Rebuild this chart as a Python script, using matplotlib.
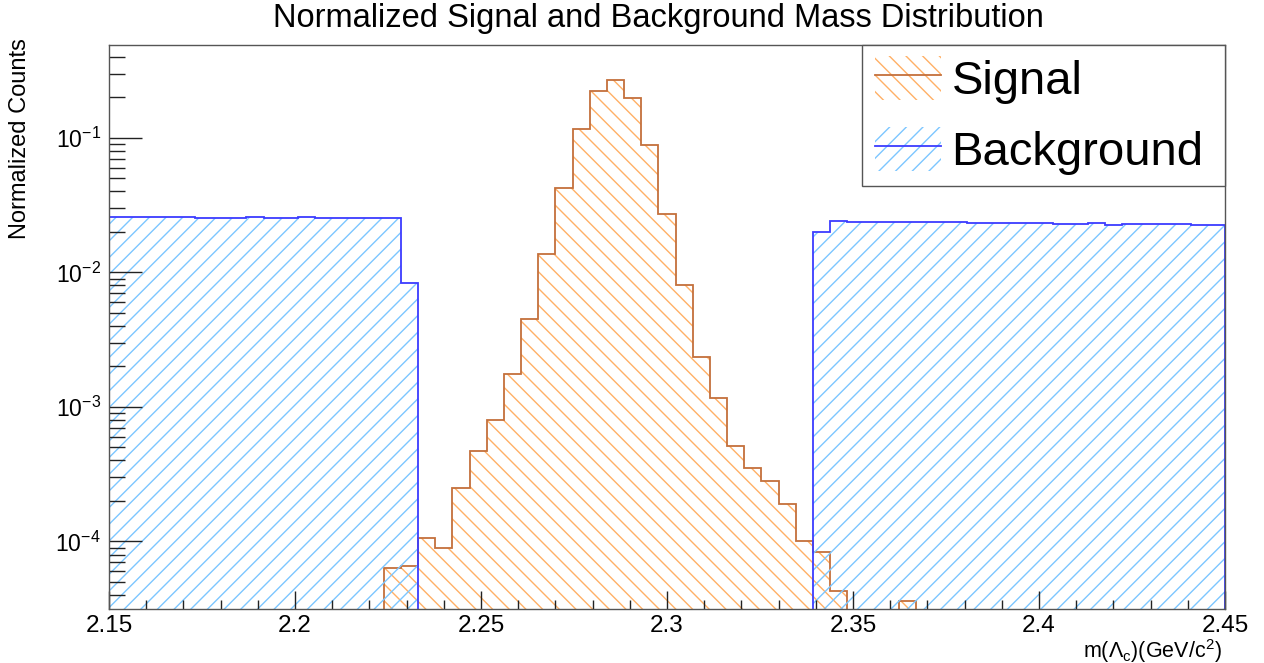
import numpy as np
import matplotlib
matplotlib.use("Agg")
import matplotlib.pyplot as plt
from matplotlib.patches import Patch, Rectangle
from matplotlib.lines import Line2D
from matplotlib.legend_handler import HandlerTuple
from matplotlib.ticker import MultipleLocator, LogLocator, FuncFormatter, NullFormatter

plt.rcParams["font.family"] = ["Liberation Sans", "DejaVu Sans"]
plt.rcParams["mathtext.fontset"] = "custom"
plt.rcParams["mathtext.rm"] = "Liberation Sans"
plt.rcParams["mathtext.it"] = "Liberation Sans:italic"
plt.rcParams["hatch.linewidth"] = 1.0

# binning of the Lambda_c mass window
m_lo, m_hi, n_bins = 2.15, 2.45, 65
edges = np.linspace(m_lo, m_hi, n_bins + 1)

# normalized bin contents (unit area per sample)
signal = [
    0, 0, 0, 0, 0, 0, 0, 0, 0, 0, 0, 0, 0, 0, 0, 0,
    6.3e-5, 6.6e-5, 1.07e-4, 9.0e-5, 2.5e-4, 4.7e-4, 8.0e-4, 1.75e-3, 4.5e-3,
    1.37e-2, 4.25e-2, 0.117, 0.223, 0.269, 0.198, 0.088, 0.027, 8.1e-3,
    2.37e-3, 1.16e-3, 5.1e-4, 3.5e-4, 2.8e-4, 1.9e-4, 1.0e-4, 8.3e-5, 4.3e-5,
    0, 0, 0, 3.6e-5,
    0, 0, 0, 0, 0, 0, 0, 0, 0, 0, 0, 0, 0, 0, 0, 0, 0, 0,
]
background = [
    0.0256, 0.0256, 0.0256, 0.0256, 0.0256, 0.0253, 0.0253, 0.0253, 0.0259,
    0.0253, 0.0253, 0.0259, 0.0253, 0.0253, 0.0253, 0.0253, 0.0253, 0.0084,
    0, 0, 0, 0, 0, 0, 0, 0, 0, 0, 0, 0, 0, 0, 0, 0, 0, 0, 0, 0, 0, 0, 0,
    0.0200, 0.0242, 0.0236, 0.0236, 0.0236, 0.0236, 0.0236, 0.0236, 0.0236,
    0.0234, 0.0234, 0.0234, 0.0234, 0.0234, 0.0230, 0.0230, 0.0234, 0.0227,
    0.0230, 0.0230, 0.0230, 0.0230, 0.0227, 0.0227,
]

sig_line, sig_hatch = "#c4703c", "#ffb066"
bkg_line, bkg_hatch = "#3c3cff", "#7cc6ff"
floor = 1e-9   # empty bins sit far below the visible log range

fig = plt.figure(figsize=(12.64, 6.63), dpi=100)
ax = fig.add_axes([109 / 1264, 1 - 609 / 663, 1116 / 1264, 564 / 663])
ax.set_yscale("log")


def draw_hist(vals, hatch, hatch_color, line_color):
    v = np.asarray(vals, dtype=float)
    v = np.where(v > 0, v, floor)
    ax.stairs(v, edges, baseline=floor, fill=True, facecolor="none",
              edgecolor=hatch_color, hatch=hatch, linewidth=0)
    ax.stairs(v, edges, baseline=floor, fill=False, color=line_color, linewidth=1.3)


draw_hist(signal, "\\\\", sig_hatch, sig_line)
draw_hist(background, "//", bkg_hatch, bkg_line)

ax.set_xlim(m_lo, m_hi)
ax.set_ylim(3.15e-5, 0.49)

ax.xaxis.set_major_locator(MultipleLocator(0.05))
ax.xaxis.set_minor_locator(MultipleLocator(0.01))
ax.xaxis.set_major_formatter(FuncFormatter(lambda v, p: f"{v:g}"))
ax.yaxis.set_major_locator(LogLocator(base=10, numticks=20))
ax.yaxis.set_minor_locator(LogLocator(base=10, subs=np.arange(2, 10), numticks=20))
ax.yaxis.set_minor_formatter(NullFormatter())

ax.tick_params(axis="both", which="both", direction="in", top=False, right=False,
               color="#222222", labelcolor="black", width=1)
ax.tick_params(axis="x", which="major", length=13, pad=4, labelsize=17.5)
ax.tick_params(axis="x", which="minor", length=6.5)
ax.tick_params(axis="y", which="major", length=24, pad=6, labelsize=16.5)
ax.tick_params(axis="y", which="minor", length=11.5)
for s in ax.spines.values():
    s.set_color("#555555")
    s.set_linewidth(1.0)

# legend box: white panel in the top-right corner, entries placed inside it
ax.add_patch(Rectangle((0.675, 0.75), 0.325, 0.25, transform=ax.transAxes,
                       facecolor="white", edgecolor="#555555", linewidth=1.0,
                       zorder=5, clip_on=False))
h_sig = (Patch(facecolor="none", edgecolor=sig_hatch, hatch="\\\\", linewidth=0),
         Line2D([], [], color=sig_line, lw=1.3))
h_bkg = (Patch(facecolor="none", edgecolor=bkg_hatch, hatch="//", linewidth=0),
         Line2D([], [], color=bkg_line, lw=1.3))
leg = ax.legend([h_sig, h_bkg], ["Signal", "Background"],
                handler_map={tuple: HandlerTuple(ndivide=1, pad=0)},
                loc="upper left", bbox_to_anchor=((875 - 109) / 1116, 1 - 11 / 564),
                borderaxespad=0, borderpad=0, frameon=False,
                fontsize=34, handlelength=1.4, handleheight=1.05, handletextpad=0.22,
                labelspacing=0.49)
leg.set_zorder(6)

fig.text(658 / 1264, 1 - 18 / 663, "Normalized Signal and Background Mass Distribution",
         ha="center", va="center", fontsize=23.5)
fig.text(20 / 1264, 1 - 38 / 663, "Normalized Counts", rotation=90,
         ha="center", va="top", fontsize=17)
fig.text(1222 / 1264, 1 - 658 / 663, r"m(Λ$_{\mathrm{c}}$)(GeV/c$^{2}$)",
         ha="right", va="baseline", fontsize=15.5)

fig.savefig("out.png", dpi=100)
